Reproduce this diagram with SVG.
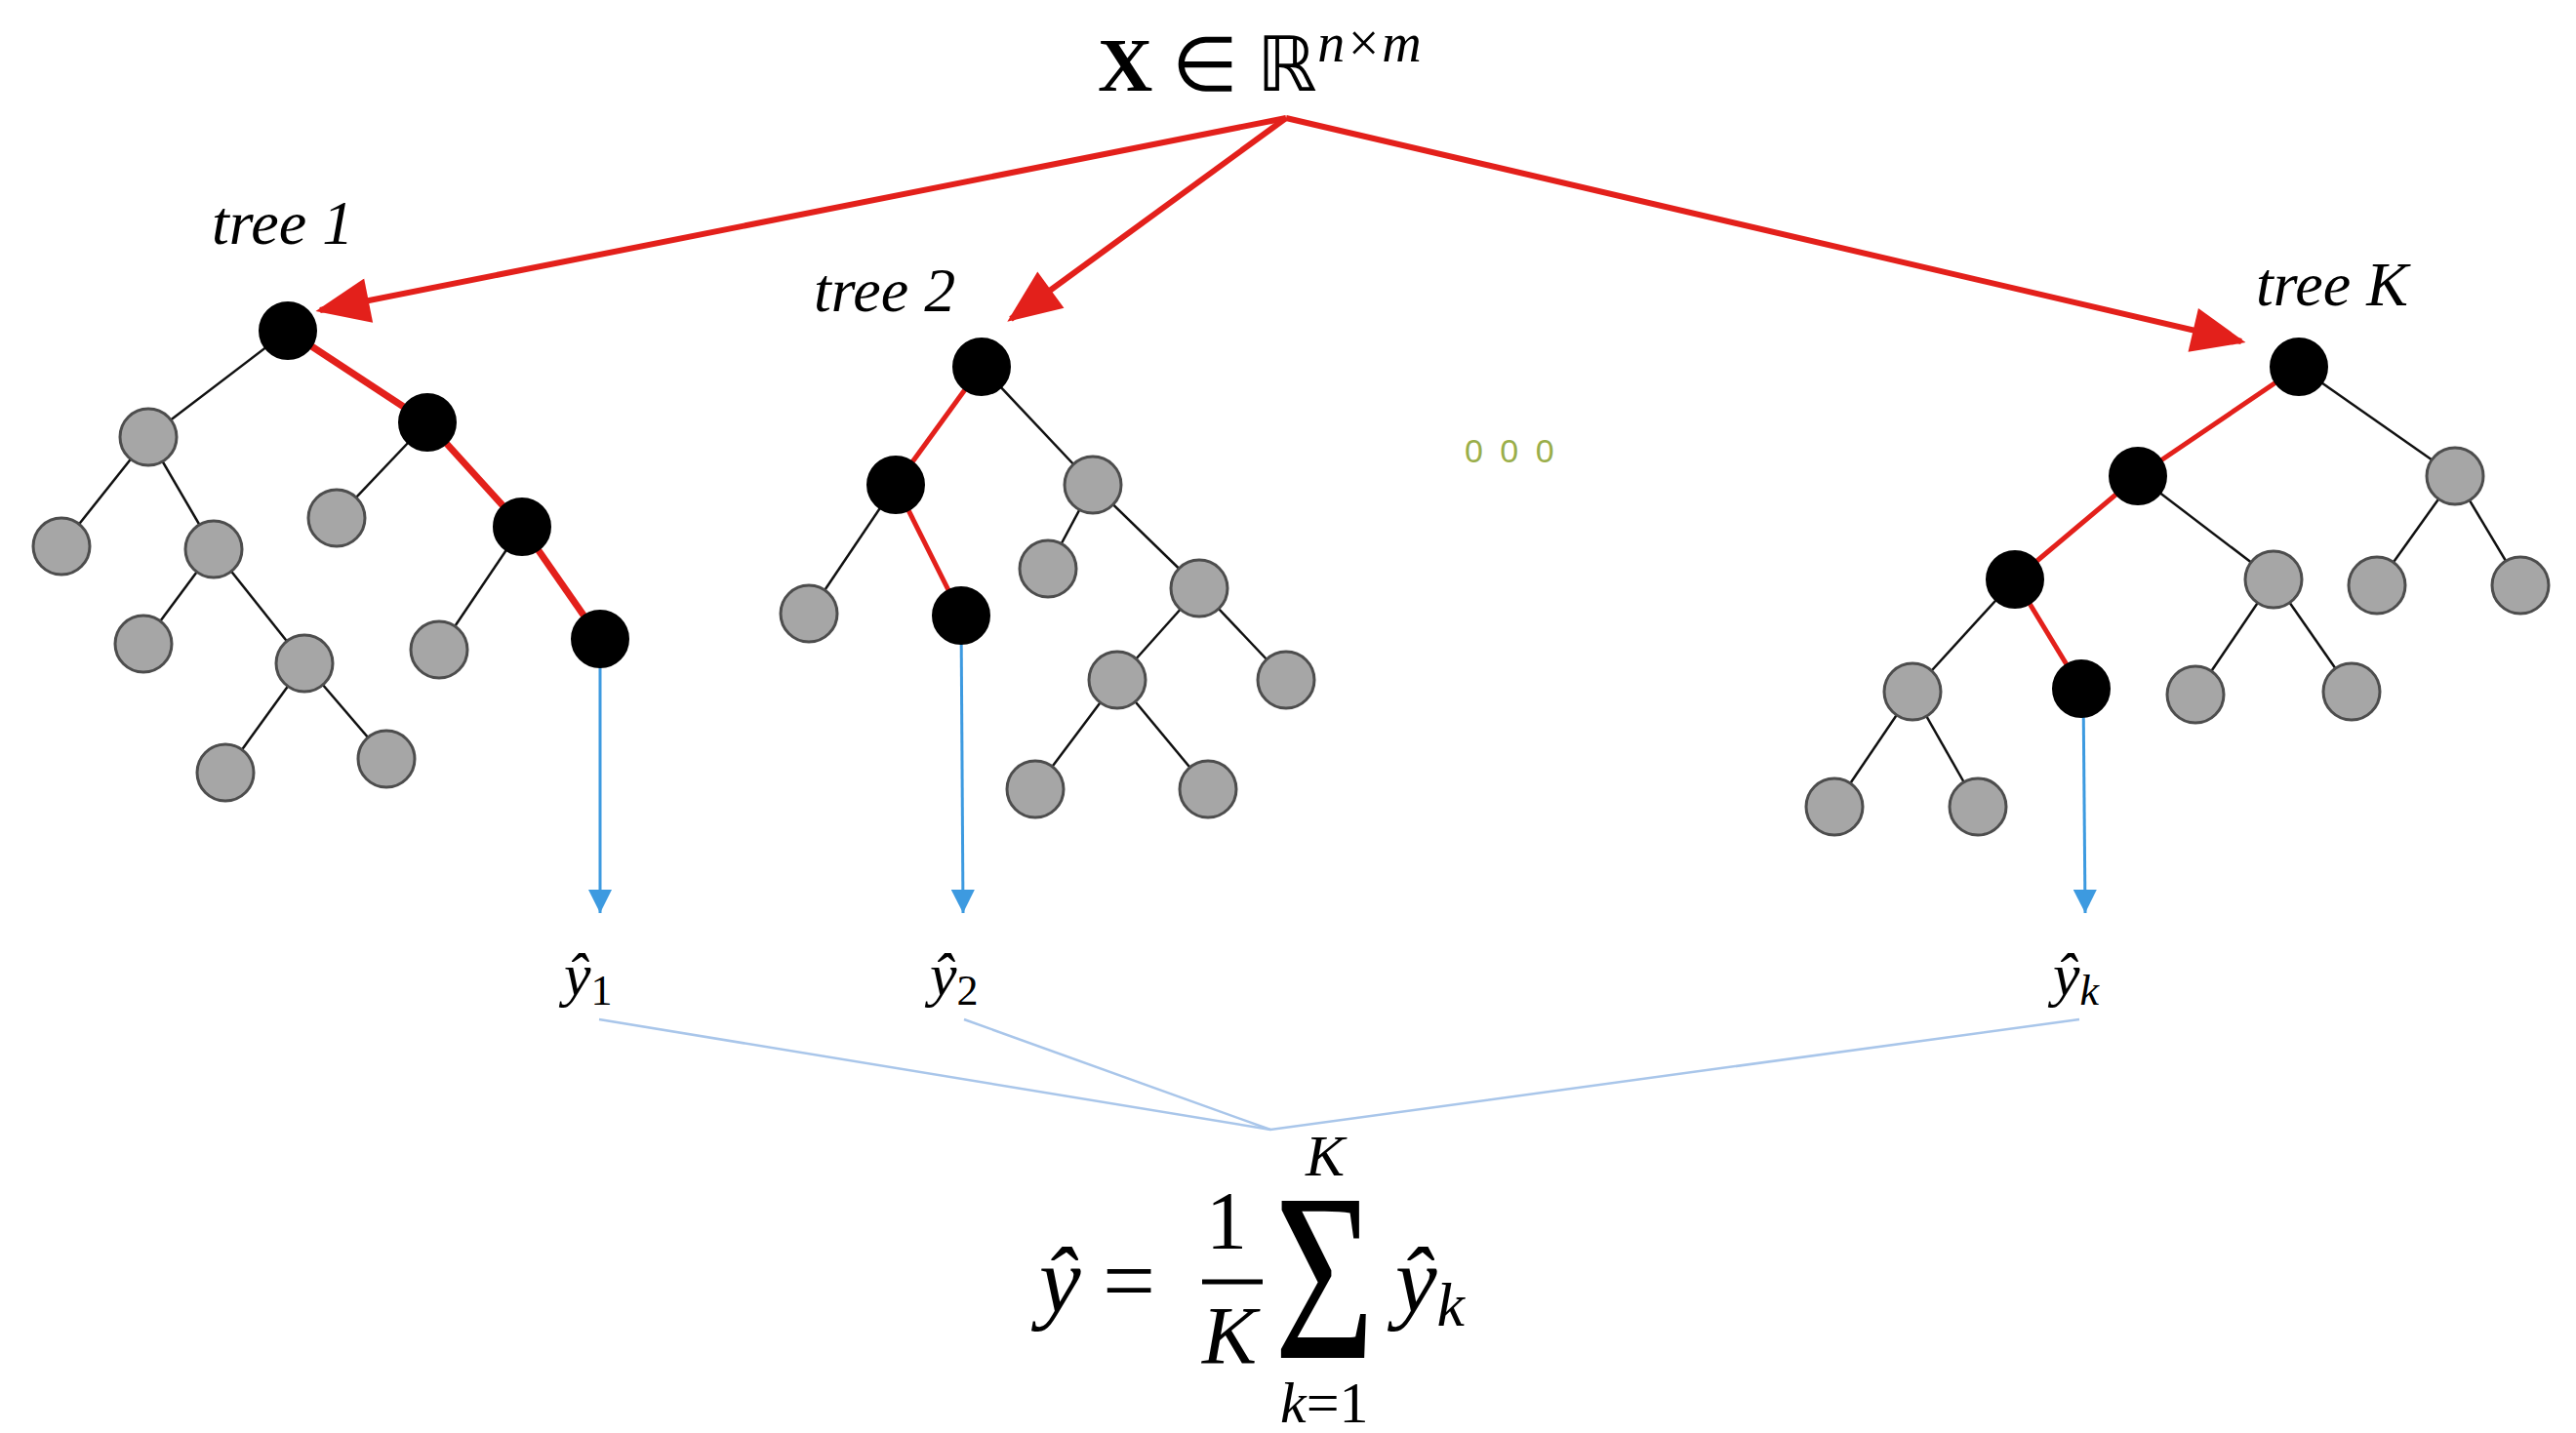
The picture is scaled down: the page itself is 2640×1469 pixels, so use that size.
<svg xmlns="http://www.w3.org/2000/svg" width="2640" height="1469" viewBox="0 0 2640 1469">
<style>
.g{fill:#a6a6a6;stroke:#4d4d4d;stroke-width:3}
.b{fill:#000;stroke:#000;stroke-width:2}
.e{stroke:#111;stroke-width:2.5;fill:none}
.r{stroke:#e3201b;stroke-width:7;fill:none}
.ra{stroke:#e3201b;stroke-width:6;fill:none}
.bl{stroke:#3d9ae0;stroke-width:3;fill:none}
.lb{stroke:#a9c6ea;stroke-width:2.5;fill:none}
.t{font-family:"Liberation Serif",serif;font-style:italic;fill:#000}
</style>
<defs>
<marker id="ar" viewBox="0 0 12 10" refX="11" refY="5" markerWidth="62" markerHeight="46" markerUnits="userSpaceOnUse" orient="auto"><path d="M0,0L12,5L0,10z" fill="#e3201b"/></marker>
<marker id="ab" viewBox="0 0 10 10" refX="10" refY="5" markerWidth="26" markerHeight="24" markerUnits="userSpaceOnUse" orient="auto"><path d="M0,0L10,5L0,10z" fill="#3d9ae0"/></marker>
</defs>
<rect width="2640" height="1469" fill="#fff"/>
<g id="connectors">
<g>
<path class="ra" d="M1318,121L328,318" marker-end="url(#ar)"/>
<path class="ra" d="M1318,121L1036,327" marker-end="url(#ar)"/>
<path class="ra" d="M1318,121L2297,350" marker-end="url(#ar)"/>
</g>
<g>
<line class="e" x1="295" y1="339" x2="152" y2="448"/>
<line class="r" x1="295" y1="339" x2="438" y2="433"/>
<line class="e" x1="152" y1="448" x2="63" y2="560"/>
<line class="e" x1="152" y1="448" x2="219" y2="563"/>
<line class="e" x1="219" y1="563" x2="147" y2="660"/>
<line class="e" x1="219" y1="563" x2="312" y2="680"/>
<line class="e" x1="312" y1="680" x2="231" y2="792"/>
<line class="e" x1="312" y1="680" x2="396" y2="778"/>
<line class="e" x1="438" y1="433" x2="345" y2="531"/>
<line class="r" x1="438" y1="433" x2="535" y2="540"/>
<line class="e" x1="535" y1="540" x2="450" y2="666"/>
<line class="r" x1="535" y1="540" x2="615" y2="655"/>
<line class="r" style="stroke-width:5" x1="1006" y1="376" x2="918" y2="497"/>
<line class="e" x1="1006" y1="376" x2="1120" y2="497"/>
<line class="e" x1="918" y1="497" x2="829" y2="629"/>
<line class="r" style="stroke-width:5" x1="918" y1="497" x2="985" y2="631"/>
<line class="e" x1="1120" y1="497" x2="1074" y2="583"/>
<line class="e" x1="1120" y1="497" x2="1229" y2="603"/>
<line class="e" x1="1229" y1="603" x2="1145" y2="697"/>
<line class="e" x1="1229" y1="603" x2="1318" y2="697"/>
<line class="e" x1="1145" y1="697" x2="1061" y2="809"/>
<line class="e" x1="1145" y1="697" x2="1238" y2="809"/>
<line class="r" style="stroke-width:5" x1="2356" y1="376" x2="2191" y2="488"/>
<line class="e" x1="2356" y1="376" x2="2516" y2="488"/>
<line class="r" style="stroke-width:5" x1="2191" y1="488" x2="2065" y2="594"/>
<line class="e" x1="2191" y1="488" x2="2330" y2="594"/>
<line class="e" x1="2516" y1="488" x2="2436" y2="600"/>
<line class="e" x1="2516" y1="488" x2="2583" y2="600"/>
<line class="e" x1="2065" y1="594" x2="1960" y2="709"/>
<line class="r" style="stroke-width:5" x1="2065" y1="594" x2="2133" y2="706"/>
<line class="e" x1="2330" y1="594" x2="2250" y2="712"/>
<line class="e" x1="2330" y1="594" x2="2410" y2="709"/>
<line class="e" x1="1960" y1="709" x2="1880" y2="827"/>
<line class="e" x1="1960" y1="709" x2="2027" y2="827"/>
</g>
<line class="bl" x1="615" y1="655" x2="615" y2="936" marker-end="url(#ab)"/>
<line class="bl" x1="985" y1="631" x2="987" y2="936" marker-end="url(#ab)"/>
<line class="bl" x1="2135" y1="706" x2="2137" y2="936" marker-end="url(#ab)"/>
<polyline class="lb" points="614,1045 1302,1158 2131,1045"/>
<line class="lb" x1="988" y1="1045" x2="1302" y2="1158"/>
</g>
<g id="tree1">
<circle class="b" cx="295" cy="339" r="29"/>
<circle class="g" cx="152" cy="448" r="29"/>
<circle class="b" cx="438" cy="433" r="29"/>
<circle class="g" cx="63" cy="560" r="29"/>
<circle class="g" cx="219" cy="563" r="29"/>
<circle class="g" cx="345" cy="531" r="29"/>
<circle class="b" cx="535" cy="540" r="29"/>
<circle class="g" cx="147" cy="660" r="29"/>
<circle class="g" cx="312" cy="680" r="29"/>
<circle class="g" cx="450" cy="666" r="29"/>
<circle class="b" cx="615" cy="655" r="29"/>
<circle class="g" cx="231" cy="792" r="29"/>
<circle class="g" cx="396" cy="778" r="29"/>
</g>
<g id="tree2">
<circle class="b" cx="1006" cy="376" r="29"/>
<circle class="b" cx="918" cy="497" r="29"/>
<circle class="g" cx="1120" cy="497" r="29"/>
<circle class="g" cx="829" cy="629" r="29"/>
<circle class="b" cx="985" cy="631" r="29"/>
<circle class="g" cx="1074" cy="583" r="29"/>
<circle class="g" cx="1229" cy="603" r="29"/>
<circle class="g" cx="1145" cy="697" r="29"/>
<circle class="g" cx="1318" cy="697" r="29"/>
<circle class="g" cx="1061" cy="809" r="29"/>
<circle class="g" cx="1238" cy="809" r="29"/>
</g>
<g id="treeK">
<circle class="b" cx="2356" cy="376" r="29"/>
<circle class="b" cx="2191" cy="488" r="29"/>
<circle class="g" cx="2516" cy="488" r="29"/>
<circle class="b" cx="2065" cy="594" r="29"/>
<circle class="g" cx="2330" cy="594" r="29"/>
<circle class="g" cx="2436" cy="600" r="29"/>
<circle class="g" cx="2583" cy="600" r="29"/>
<circle class="g" cx="1960" cy="709" r="29"/>
<circle class="b" cx="2133" cy="706" r="29"/>
<circle class="g" cx="2250" cy="712" r="29"/>
<circle class="g" cx="2410" cy="709" r="29"/>
<circle class="g" cx="1880" cy="827" r="29"/>
<circle class="g" cx="2027" cy="827" r="29"/>
</g>
<g id="labels">
<text x="1125" y="93" font-family="Liberation Serif,serif" font-size="78" fill="#000"><tspan font-weight="bold">X</tspan> ∈ ℝ<tspan class="t" font-size="56" dy="-30">n×m</tspan></text>
<text class="t" x="217" y="250" font-size="64">tree 1</text>
<text class="t" x="834" y="319" font-size="64">tree 2</text>
<text class="t" x="2312" y="313" font-size="64">tree K</text>
<text x="1501" y="474" font-family="Liberation Sans,sans-serif" font-size="34" fill="#9aae4a" letter-spacing="4">0 0 0</text>
<text class="t" x="578" y="1020" font-size="62">ŷ<tspan font-style="normal" font-size="44" dy="10">1</tspan></text>
<text class="t" x="953" y="1020" font-size="62">ŷ<tspan font-style="normal" font-size="44" dy="10">2</tspan></text>
<text class="t" x="2104" y="1020" font-size="62">ŷ<tspan font-size="44" dy="10">k</tspan></text>
<text class="t" x="1065" y="1345" font-size="96">ŷ</text>
<text x="1130" y="1345" font-family="Liberation Serif,serif" font-size="96" fill="#000">=</text>
<text x="1236" y="1280" font-family="Liberation Serif,serif" font-size="84" fill="#000">1</text>
<line x1="1232" y1="1314" x2="1294" y2="1314" stroke="#000" stroke-width="5"/>
<text class="t" x="1232" y="1398" font-size="84">K</text>
<text class="t" x="1338" y="1205" font-size="60">K</text>
<text transform="translate(1306,1392) scale(0.72,1)" font-family="Liberation Serif,serif" font-size="245" fill="#000">Σ</text>
<text class="t" x="1312" y="1458" font-size="60">k<tspan font-style="normal">=1</tspan></text>
<text class="t" x="1430" y="1345" font-size="96">ŷ<tspan font-size="64" dy="14">k</tspan></text>
</g>
</svg>
